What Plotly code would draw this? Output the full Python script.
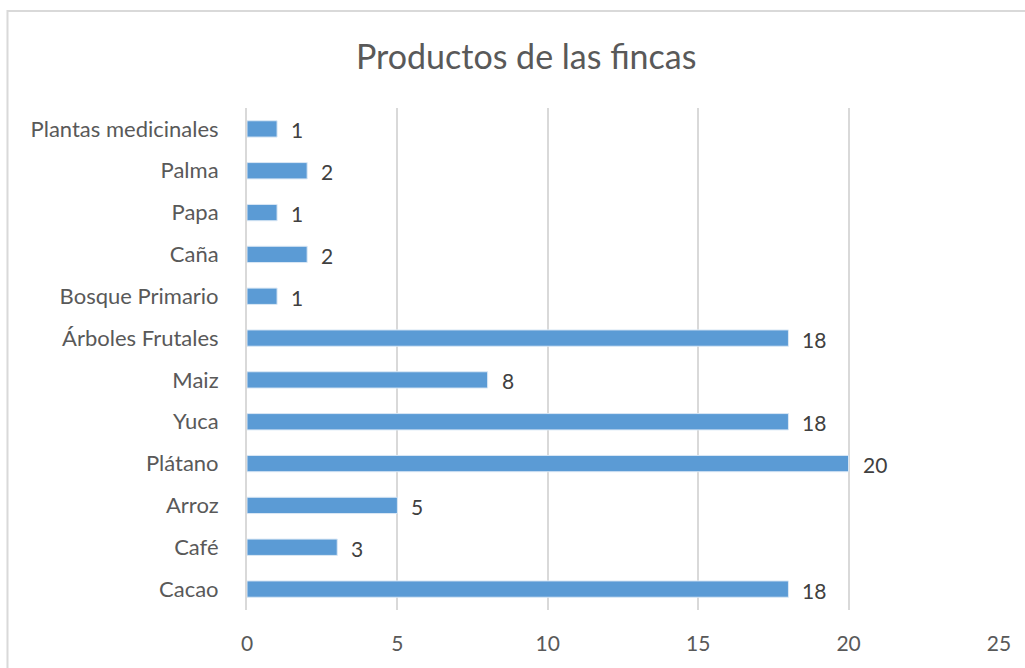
import plotly.graph_objects as go

# Products grown on the farms, listed bottom to top
productos = ["Cacao", "Café", "Arroz", "Plátano", "Yuca", "Maiz",
             "Árboles Frutales", "Bosque Primario", "Caña", "Papa",
             "Palma", "Plantas medicinales"]
cantidades = [18, 3, 5, 20, 18, 8, 18, 1, 2, 1, 2, 1]
x_ticks = [0, 5, 10, 15, 20, 25]

FONT = "Lato, 'Open Sans', sans-serif"
TEXT = "#595959"
GRID = "#d9d9d9"

fig = go.Figure()
fig.add_trace(go.Bar(
    x=cantidades,
    y=productos,
    orientation="h",
    marker=dict(color="#5b9bd5", line=dict(color="#dbe8f5", width=1)),
    hoverinfo="x+y",
))

# Value labels to the right of each bar
for prod, val in zip(productos, cantidades):
    fig.add_annotation(
        x=val, y=prod, text=str(val), showarrow=False,
        xanchor="left", yanchor="middle", xshift=12, yshift=-1,
        font=dict(family=FONT, size=21, color="#404040"),
    )

# Chart title
fig.add_annotation(
    xref="paper", yref="paper", x=0.371, y=1.105,
    text="Productos de las fincas", showarrow=False,
    xanchor="center", yanchor="middle",
    font=dict(family=FONT, size=34, color=TEXT),
)

# Outer chart frame
fig.add_shape(
    type="rect", xref="paper", yref="paper",
    x0=-0.3185, x1=1.06, y0=-0.13, y1=1.193,
    line=dict(color=GRID, width=2), fillcolor="rgba(0,0,0,0)",
    layer="below",
)

fig.update_layout(
    width=1025, height=668,
    margin=dict(l=247, r=26, t=108, b=58),
    paper_bgcolor="white", plot_bgcolor="white",
    bargap=0.61,
    showlegend=False,
    font=dict(family=FONT, size=21, color=TEXT),
    xaxis=dict(
        range=[0, 25], tickvals=x_ticks, showgrid=True,
        gridcolor=GRID, gridwidth=2, zeroline=False, showline=False,
        ticks="", tickfont=dict(size=21, color=TEXT), ticklabelstandoff=19,
        fixedrange=True,
    ),
    yaxis=dict(
        categoryorder="array", categoryarray=productos,
        range=[-0.5, len(productos) - 0.5],
        showgrid=False, zeroline=False,
        showline=True, linecolor=GRID, linewidth=2,
        ticks="", ticklabelstandoff=22,
        tickfont=dict(size=22, color=TEXT),
        fixedrange=True,
    ),
)

fig.write_html("out.html")
